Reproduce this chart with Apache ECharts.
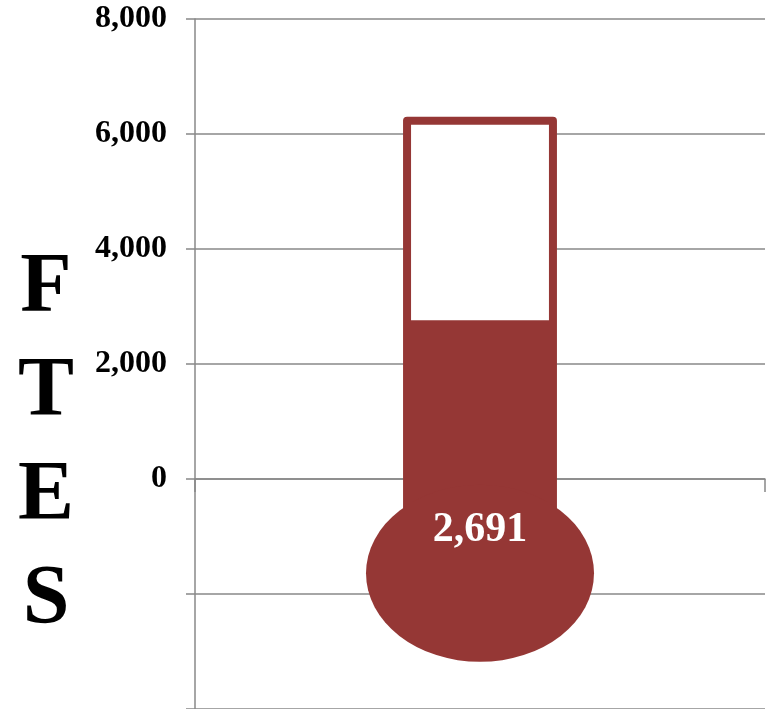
<!DOCTYPE html>
<html>
<head>
<meta charset="utf-8">
<script src="https://cdn.jsdelivr.net/npm/echarts@6/dist/echarts.min.js"></script>
<style>
html,body{margin:0;padding:0;background:#fff;}
#chart{width:767px;height:709px;}
</style>
</head>
<body>
<div id="chart"></div>
<script>
// Data
const categories = ['FTEs'];
const actualValues = [2691];
const goalValues = [6300];
const axisMin = -4000;
const axisMax = 8000;
const axisInterval = 2000;
const axisNameLetters = ['F', 'T', 'E', 'S'];

const RED = '#953735';
const GRAY = '#888888';
const SERIF = '"Liberation Serif","Times New Roman",serif';

const chart = echarts.init(document.getElementById('chart'));

function renderThermo(params, api) {
  const cat = api.value(0);
  const actual = api.value(1);
  const goal = api.value(2);
  const band = api.size([1, 0])[0];
  const cx = api.coord([cat, 0])[0];
  const topY = api.coord([cat, goal])[1];
  const fillY = api.coord([cat, actual])[1];
  const bulbCy = api.coord([cat, -1640])[1];
  const ry = api.size([0, 1540])[1];
  const rx = band * 0.2;
  const tubeW = band * 0.27;
  const border = 8;
  return {
    type: 'group',
    children: [
      {
        type: 'rect',
        shape: { x: cx - tubeW / 2, y: topY, width: tubeW, height: bulbCy - topY, r: [4, 4, 0, 0] },
        style: { fill: RED }
      },
      {
        type: 'rect',
        shape: { x: cx - tubeW / 2 + border, y: topY + border, width: tubeW - 2 * border, height: (fillY - 4) - (topY + border) },
        style: { fill: '#ffffff' }
      },
      {
        type: 'circle',
        x: cx, y: bulbCy,
        scaleY: ry / rx,
        shape: { cx: 0, cy: 0, r: rx },
        style: { fill: RED }
      },
      {
        type: 'text',
        x: cx, y: bulbCy - ry * 0.49,
        style: {
          text: echarts.format.addCommas(actual),
          fill: '#ffffff',
          font: 'bold 42px ' + SERIF,
          align: 'center',
          verticalAlign: 'middle'
        }
      }
    ]
  };
}

const option = {
  animation: false,
  backgroundColor: '#ffffff',
  grid: { left: 195, right: 2, top: 19, bottom: 0, containLabel: false },
  xAxis: {
    type: 'category',
    data: categories,
    axisLine: { show: true, onZero: true, lineStyle: { color: GRAY, width: 1.5 } },
    axisTick: { show: true, length: 13, lineStyle: { color: GRAY, width: 1.5 } },
    axisLabel: { show: false },
    splitLine: { show: false }
  },
  yAxis: {
    type: 'value',
    min: axisMin,
    max: axisMax,
    interval: axisInterval,
    axisLine: { show: true, lineStyle: { color: GRAY, width: 1.5 } },
    axisTick: { show: true, length: 9, lineStyle: { color: GRAY, width: 1.5 } },
    axisLabel: {
      margin: 28,
      color: '#000',
      fontFamily: SERIF,
      fontWeight: 'bold',
      fontSize: 32,
      formatter: v => v < 0 ? '' : echarts.format.addCommas(v)
    },
    splitLine: { show: true, lineStyle: { color: GRAY, width: 1.5 } }
  },
  graphic: [
    {
      type: 'text',
      x: 46, y: 237,
      style: {
        text: axisNameLetters.join('\n'),
        font: 'bold 84px ' + SERIF,
        lineHeight: 104,
        fill: '#000',
        align: 'center',
        verticalAlign: 'top'
      }
    }
  ],
  series: [
    {
      type: 'custom',
      renderItem: renderThermo,
      data: categories.map((c, i) => [i, actualValues[i], goalValues[i]]),
      encode: { x: 0, y: [1, 2] },
      clip: false
    }
  ]
};
chart.setOption(option);
</script>
</body>
</html>
